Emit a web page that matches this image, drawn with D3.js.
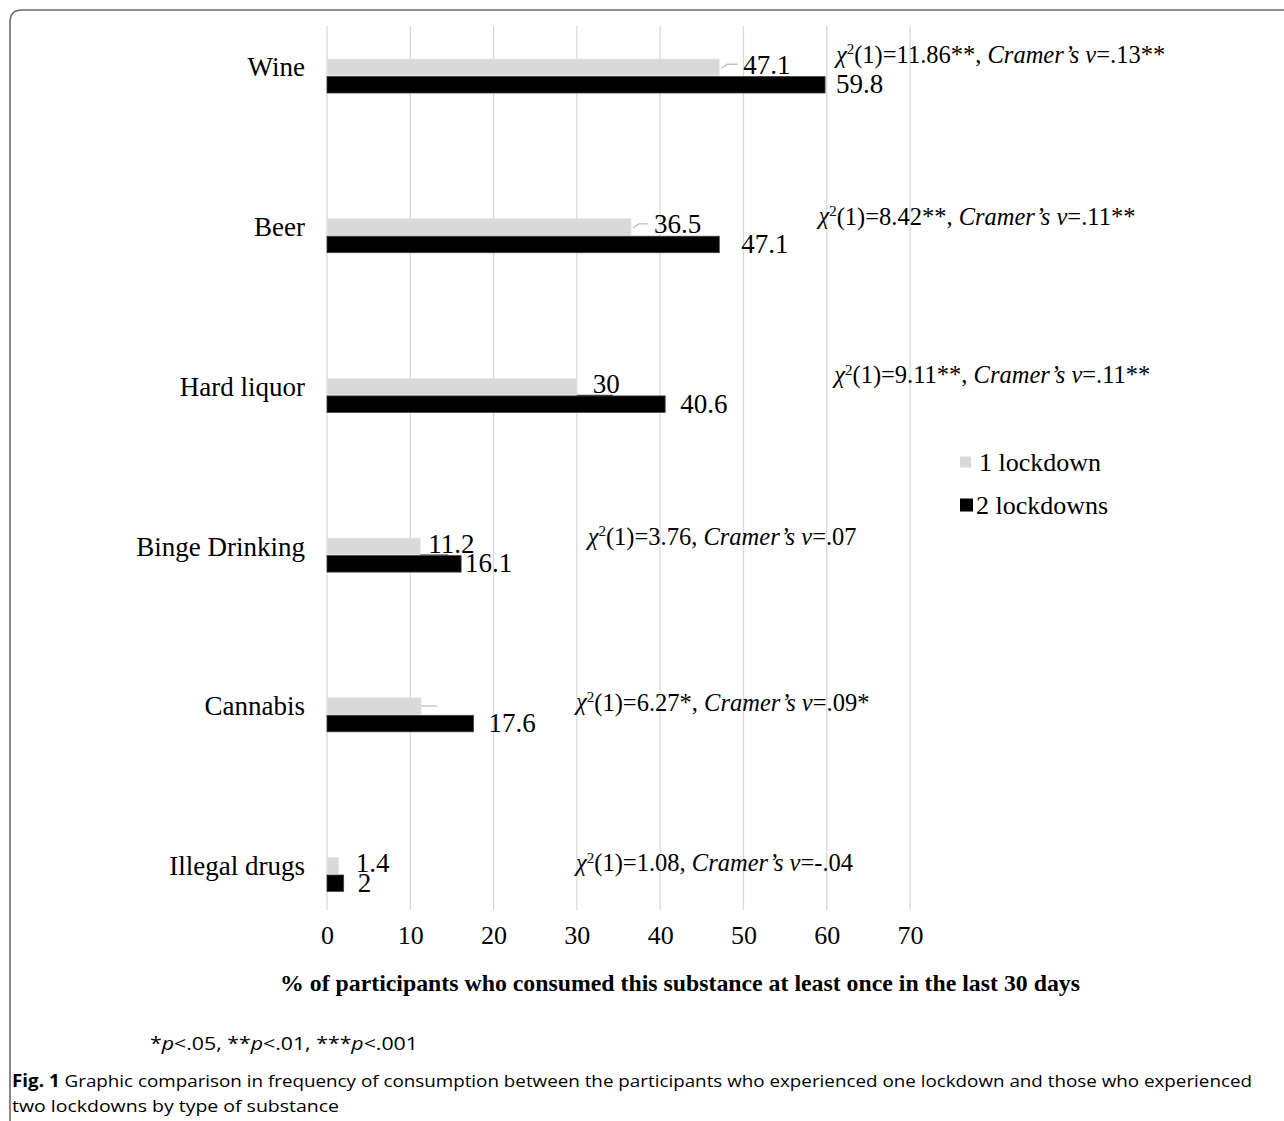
<!DOCTYPE html>
<html>
<head>
<meta charset="utf-8">
<script src="https://cdn.jsdelivr.net/npm/d3@7/dist/d3.min.js"></script>
<style>
  html, body { margin: 0; padding: 0; background: #fff; }
  svg { display: block; }
</style>
</head>
<body>
<script>
// ---- data ----
const categories = ["Wine", "Beer", "Hard liquor", "Binge Drinking", "Cannabis", "Illegal drugs"];
const seriesNames = ["1 lockdown", "2 lockdowns"];
const oneLockdown = [47.1, 36.5, 30, 11.2, 11.3, 1.4];
const twoLockdowns = [59.8, 47.1, 40.6, 16.1, 17.6, 2];
const oneLabels = ["47.1", "36.5", "30", "11.2", "", "1.4"];
const twoLabels = ["59.8", "47.1", "40.6", "16.1", "17.6", "2"];
const chiStats = ["11.86**", "8.42**", "9.11**", "3.76", "6.27*", "1.08"];
const cramerV = [".13**", ".11**", ".11**", ".07", ".09*", "-.04"];
const xTicks = [0, 10, 20, 30, 40, 50, 60, 70];
const axisTitle = "% of participants who consumed this substance at least once in the last 30 days";
const footnote = [["*", false], ["p", true], ["<.05, **", false], ["p", true], ["<.01, ***", false], ["p", true], ["<.001", false]];
const captionLabel = "Fig. 1";
const captionLine1 = "Graphic comparison in frequency of consumption between the participants who experienced one lockdown and those who experienced";
const captionLine2 = "two lockdowns by type of substance";

// ---- layout (positions/styles) ----
const W = 1284, H = 1121;
const serif = "'Liberation Serif', 'Times New Roman', serif";
const sans = "'Open Sans', 'Noto Sans', sans-serif";
const GRAY = "#d9d9d9", BLACK = "#000000";
const annX = [61.1, 59.0, 60.9, 31.3, 29.9, 29.9];      // in data units
const annDy = [-22, -20, -21, -19, -13, -12];           // relative to group centre
const oneLabelDx = [24, 23, 16, 8, 0, 17];
const twoLabelDx = [11, 22, 15, 4, 15, 14];
const leaderKind = ["hook", "hook", "under", "under", "mid", "none"];

const svg = d3.select("body").append("svg").attr("width", W).attr("height", H);

// frame
svg.append("path")
  .attr("d", `M10,${H} L10,22 Q10,10 22,10 L${W},10`)
  .attr("fill", "none").attr("stroke", "#6b6b6b").attr("stroke-width", 1.6);

const x = d3.scaleLinear().domain([0, 70]).range([327, 910]);
const step = 159.7, c0 = 76;
const y = d3.scaleBand().domain(categories)
  .range([c0 - step / 2, c0 + step * (categories.length - 0.5)]).paddingInner(0).paddingOuter(0);
const centre = c => y(c) + y.bandwidth() / 2;
const ys = d3.scaleBand().domain(seriesNames).range([-17, 17]).paddingInner(0.06);

// gridlines
svg.append("g").selectAll("line").data(xTicks).join("line")
  .attr("x1", d => x(d)).attr("x2", d => x(d))
  .attr("y1", 26).attr("y2", 910)
  .attr("stroke", "#d9d9d9").attr("stroke-width", 1.3);

// bars
const series = [oneLockdown, twoLockdowns];
const colors = [GRAY, BLACK];
series.forEach((vals, si) => {
  svg.append("g").selectAll("rect").data(categories).join("rect")
    .attr("x", x(0))
    .attr("y", c => centre(c) + ys(seriesNames[si]))
    .attr("width", (c, i) => x(vals[i]) - x(0))
    .attr("height", ys.bandwidth())
    .attr("fill", colors[si])
    .attr("stroke", si === 0 ? "#e6e6e6" : "#404040").attr("stroke-width", 0.8);
});

// leader lines for 1 lockdown labels
categories.forEach((c, i) => {
  const kind = leaderKind[i];
  if (kind === "none") return;
  const bx = x(oneLockdown[i]);
  const top = centre(c) + ys(seriesNames[0]);
  const bh = ys.bandwidth();
  let pts, col;
  if (kind === "hook") {
    pts = [[bx + 2, top + bh / 2 + 1], [bx + 8, top + bh / 2 - 3], [bx + oneLabelDx[i] - 6, top + bh / 2 - 3]];
    col = "#bfbfbf";
  } else if (kind === "under") {
    pts = [[bx, top + bh + 0.5], [bx + oneLabelDx[i] + 20, top + bh + 0.5]];
    col = "#404040";
  } else {
    pts = [[bx, top + bh / 2], [bx + 16, top + bh / 2]];
    col = "#bfbfbf";
  }
  svg.append("path").attr("d", d3.line()(pts)).attr("fill", "none")
    .attr("stroke", col).attr("stroke-width", 1.3);
});

// value labels
const lab = svg.append("g").attr("font-family", serif).attr("font-size", 27).attr("fill", "#000");
categories.forEach((c, i) => {
  const t1 = centre(c) + ys(seriesNames[0]) + ys.bandwidth() / 2 - 3;
  const t2 = centre(c) + ys(seriesNames[1]) + ys.bandwidth() / 2 - 1;
  if (oneLabels[i]) lab.append("text").attr("x", x(oneLockdown[i]) + oneLabelDx[i]).attr("y", t1)
    .attr("dy", "0.35em").text(oneLabels[i]);
  lab.append("text").attr("x", x(twoLockdowns[i]) + twoLabelDx[i]).attr("y", t2)
    .attr("dy", "0.35em").text(twoLabels[i]);
});

// category labels
svg.append("g").selectAll("text").data(categories).join("text")
  .attr("x", 305).attr("y", c => centre(c) - 9).attr("dy", "0.35em")
  .attr("text-anchor", "end").attr("font-family", serif).attr("font-size", 27)
  .text(c => c);

// chi-square annotations
const ann = svg.append("g").attr("font-family", serif).attr("font-size", 24.5);
categories.forEach((c, i) => {
  const t = ann.append("text").attr("x", x(annX[i])).attr("y", centre(c) + annDy[i]).attr("dy", "0.35em");
  t.append("tspan").attr("font-style", "italic").text("χ");
  t.append("tspan").attr("font-size", 15).attr("dy", "-0.55em").text("2");
  t.append("tspan").attr("dy", "0.35em").text("(1)=" + chiStats[i] + ", ");
  t.append("tspan").attr("font-style", "italic").text("Cramer’s v");
  t.append("tspan").text("=" + cramerV[i]);
});

// x axis
const axis = svg.append("g").attr("transform", "translate(0,922)")
  .call(d3.axisBottom(x).tickValues(xTicks).tickSize(0).tickPadding(4).tickFormat(d3.format("d")));
axis.select(".domain").remove();
axis.selectAll("text").attr("font-family", serif).attr("font-size", 26).attr("fill", "#000");

// axis title
svg.append("text").attr("x", 680).attr("y", 991).attr("text-anchor", "middle")
  .attr("font-family", serif).attr("font-weight", "bold").attr("font-size", 23.8)
  .text(axisTitle);

// legend
const lg = svg.append("g").attr("font-family", serif).attr("font-size", 26);
seriesNames.forEach((s, i) => {
  const ly = 462 + i * 43;
  const sz = i === 0 ? 11 : 13;
  lg.append("rect").attr("x", 960).attr("y", ly - sz / 2).attr("width", sz).attr("height", sz)
    .attr("fill", colors[i]);
  lg.append("text").attr("x", i === 0 ? 979 : 976).attr("y", ly).attr("dy", "0.35em").text(s);
});

// footnote
const fn = svg.append("text").attr("x", 150).attr("y", 1050).attr("font-family", sans).attr("font-size", 18)
  .attr("textLength", 268).attr("lengthAdjust", "spacingAndGlyphs");
footnote.forEach(([t, it]) => fn.append("tspan").attr("font-style", it ? "italic" : "normal").text(t));

// caption
const cap = svg.append("text").attr("x", 12).attr("y", 1087).attr("font-family", sans).attr("font-size", 17)
  .attr("textLength", 1240).attr("lengthAdjust", "spacingAndGlyphs");
cap.append("tspan").attr("font-weight", "bold").text(captionLabel);
cap.append("tspan").text("  " + captionLine1);
svg.append("text").attr("x", 12).attr("y", 1112).attr("font-family", sans).attr("font-size", 17)
  .attr("textLength", 327).attr("lengthAdjust", "spacingAndGlyphs").text(captionLine2);
</script>
</body>
</html>
